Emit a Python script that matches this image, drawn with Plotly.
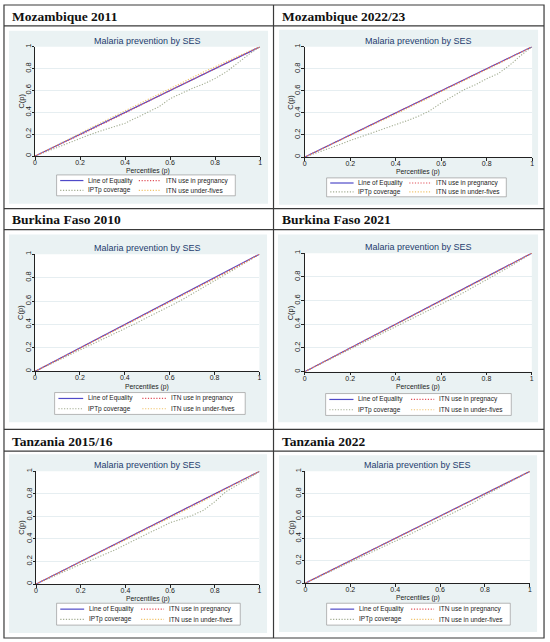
import plotly.graph_objects as go

W, H = 550, 642

# ---- values ----
percentiles = [0, 0.05, 0.1, 0.15, 0.2, 0.25, 0.3, 0.35, 0.4, 0.45, 0.5,
               0.55, 0.6, 0.65, 0.7, 0.75, 0.8, 0.85, 0.9, 0.95, 1]
equality_x = [0, 1]
equality_y = [0, 1]

moz2011_iptp = [0, 0.04, 0.085, 0.125, 0.165, 0.2, 0.235, 0.265, 0.3, 0.35, 0.4,
                0.45, 0.525, 0.575, 0.62, 0.66, 0.71, 0.77, 0.85, 0.93, 1]
moz2011_preg = [0, 0.047, 0.094, 0.142, 0.19, 0.242, 0.293, 0.345, 0.396, 0.447, 0.498,
                0.549, 0.6, 0.65, 0.7, 0.75, 0.8, 0.85, 0.9, 0.95, 1]
moz2011_u5 = [0, 0.05, 0.102, 0.155, 0.207, 0.26, 0.312, 0.364, 0.416, 0.467, 0.518,
              0.569, 0.62, 0.67, 0.72, 0.77, 0.818, 0.866, 0.913, 0.958, 1]

moz2022_iptp = [0, 0.035, 0.075, 0.11, 0.15, 0.185, 0.225, 0.26, 0.295, 0.33, 0.37,
                0.42, 0.49, 0.55, 0.61, 0.655, 0.71, 0.755, 0.83, 0.92, 1]
moz2022_preg = [0, 0.05, 0.1, 0.151, 0.201, 0.251, 0.301, 0.351, 0.401, 0.451, 0.501,
                0.551, 0.601, 0.651, 0.701, 0.751, 0.801, 0.851, 0.9, 0.95, 1]
moz2022_u5 = [0, 0.048, 0.096, 0.145, 0.194, 0.243, 0.292, 0.341, 0.39, 0.44, 0.49,
              0.54, 0.59, 0.64, 0.69, 0.741, 0.792, 0.843, 0.894, 0.947, 1]

bf2010_iptp = [0, 0.045, 0.09, 0.135, 0.18, 0.225, 0.27, 0.315, 0.36, 0.41, 0.46,
               0.505, 0.555, 0.605, 0.66, 0.715, 0.77, 0.825, 0.885, 0.94, 1]
bf2010_preg = [0, 0.049, 0.099, 0.149, 0.199, 0.249, 0.299, 0.349, 0.398, 0.448, 0.497,
               0.547, 0.597, 0.647, 0.697, 0.747, 0.797, 0.847, 0.895, 0.948, 1]
bf2010_u5 = [0, 0.048, 0.097, 0.146, 0.195, 0.244, 0.293, 0.342, 0.391, 0.44, 0.49,
             0.54, 0.589, 0.639, 0.689, 0.739, 0.789, 0.84, 0.89, 0.944, 1]

bf2021_iptp = [0, 0.047, 0.094, 0.141, 0.188, 0.235, 0.282, 0.33, 0.377, 0.424, 0.472,
               0.52, 0.567, 0.617, 0.668, 0.72, 0.772, 0.826, 0.882, 0.94, 1]
bf2021_preg = [0, 0.05, 0.1, 0.15, 0.2, 0.25, 0.3, 0.35, 0.4, 0.45, 0.5,
               0.55, 0.6, 0.65, 0.7, 0.75, 0.8, 0.852, 0.903, 0.952, 1]
bf2021_u5 = [0, 0.049, 0.098, 0.147, 0.196, 0.245, 0.294, 0.344, 0.393, 0.443, 0.493,
             0.543, 0.593, 0.643, 0.693, 0.744, 0.795, 0.846, 0.897, 0.948, 1]

tz2015_iptp = [0, 0.045, 0.09, 0.13, 0.175, 0.215, 0.255, 0.3, 0.35, 0.4, 0.45,
               0.5, 0.545, 0.575, 0.61, 0.655, 0.73, 0.82, 0.875, 0.935, 1]
tz2015_preg = [0, 0.05, 0.1, 0.15, 0.2, 0.25, 0.3, 0.35, 0.4, 0.45, 0.5,
               0.55, 0.6, 0.65, 0.7, 0.75, 0.8, 0.85, 0.9, 0.95, 1]
tz2015_u5 = [0, 0.048, 0.097, 0.146, 0.195, 0.244, 0.293, 0.342, 0.391, 0.44, 0.488,
             0.537, 0.587, 0.637, 0.687, 0.738, 0.789, 0.84, 0.892, 0.945, 1]

tz2022_iptp = [0, 0.046, 0.092, 0.138, 0.185, 0.232, 0.28, 0.327, 0.375, 0.422, 0.47,
               0.52, 0.57, 0.62, 0.67, 0.72, 0.785, 0.84, 0.895, 0.948, 1]
tz2022_preg = [0, 0.05, 0.1, 0.15, 0.2, 0.25, 0.3, 0.35, 0.4, 0.45, 0.5,
               0.55, 0.6, 0.65, 0.7, 0.75, 0.8, 0.85, 0.9, 0.95, 1]
tz2022_u5 = [0, 0.049, 0.098, 0.148, 0.197, 0.247, 0.296, 0.346, 0.396, 0.446, 0.496,
             0.546, 0.596, 0.646, 0.697, 0.747, 0.798, 0.849, 0.9, 0.95, 1]

panel_titles = ["Mozambique 2011", "Mozambique 2022/23", "Burkina Faso 2010",
                "Burkina Faso 2021", "Tanzania 2015/16", "Tanzania 2022"]
iptp_series = [moz2011_iptp, moz2022_iptp, bf2010_iptp, bf2021_iptp, tz2015_iptp, tz2022_iptp]
preg_series = [moz2011_preg, moz2022_preg, bf2010_preg, bf2021_preg, tz2015_preg, tz2022_preg]
u5_series = [moz2011_u5, moz2022_u5, bf2010_u5, bf2021_u5, tz2015_u5, tz2022_u5]
preg_labels = ["ITN use in pregnancy", "ITN use in pregnancy", "ITN use in pregnancy",
               "ITN use in pregnacy", "ITN use in pregnancy", "ITN use in pregnancy"]
u5_labels = ["ITN use under-fives", "ITN use in under-fives", "ITN use in under-fives",
             "ITN use in under-fives", "ITN use in under-fives", "ITN use in under-fives"]
chart_title = "Malaria prevention by SES"
tick_vals = [0, 0.2, 0.4, 0.6, 0.8, 1]
tick_text = ["0", "0.2", "0.4", "0.6", "0.8", "1"]

# ---- layout (pixels) ----
# plot: x0, x1, ytop, ybot ; box: x0, x1, ytop, ybot ; leg: x0, x1, ytop, ybot
geom = [
    dict(plot=(33.3, 260, 44, 154), box=(7, 268, 28, 202), leg=(55, 235, 173, 194), head=(8, 13.5)),
    dict(plot=(305, 534, 44, 155), box=(279, 540, 27, 203), leg=(327, 508, 176, 195), head=(280, 13.5)),
    dict(plot=(33.3, 259.3, 252.7, 370.7), box=(7, 267, 233, 422), leg=(53, 245, 392, 414), head=(8, 218)),
    dict(plot=(305, 533.7, 251.7, 371), box=(278, 540, 233, 422), leg=(326, 513, 393, 415), head=(280, 218)),
    dict(plot=(34.3, 259.3, 471.3, 584.7), box=(7, 267, 454, 634), leg=(55, 240, 604, 626), head=(8, 441)),
    dict(plot=(305.7, 531.7, 471.3, 583.7), box=(279, 539, 455, 633), leg=(327, 512, 604, 626), head=(280, 441)),
]

C_EQ = "#4f4ac8"
C_PREG = "#e0505a"
C_IPTP = "#a3ad92"
C_U5 = "#f0c46c"
BG_BLUE = "#eaf2f3"
TITLE_C = "#1e3c6e"
FONT = "Liberation Sans"
DOT = "1.2px,1.6px"


def px(v):
    return v / W


def py(v):
    return 1 - v / H


fig = go.Figure()
shapes = []
annotations = []

for i, g in enumerate(geom):
    n = "" if i == 0 else str(i + 1)
    xa, ya = "x" + n, "y" + n
    x0, x1, yt, yb = g["plot"]

    fig.add_trace(go.Scatter(x=equality_x, y=equality_y, mode="lines", xaxis=xa, yaxis=ya,
                             line=dict(color=C_EQ, width=1.2), showlegend=False))
    fig.add_trace(go.Scatter(x=percentiles, y=iptp_series[i], mode="lines", xaxis=xa, yaxis=ya,
                             line=dict(color=C_IPTP, width=1.1, dash=DOT), showlegend=False))
    fig.add_trace(go.Scatter(x=percentiles, y=u5_series[i], mode="lines", xaxis=xa, yaxis=ya,
                             line=dict(color=C_U5, width=1.1, dash=DOT), showlegend=False))
    fig.add_trace(go.Scatter(x=percentiles, y=preg_series[i], mode="lines", xaxis=xa, yaxis=ya,
                             line=dict(color=C_PREG, width=1.1, dash=DOT), showlegend=False))

    axis_common = dict(range=[0, 1], tickvals=tick_vals, ticktext=tick_text, showline=True,
                       linecolor="#222", linewidth=1, ticks="outside", ticklen=2.5, tickwidth=0.8,
                       tickcolor="#222", zeroline=False, fixedrange=True)
    fig.update_layout({
        "xaxis" + n: dict(axis_common, domain=[px(x0), px(x1)], anchor=ya, showgrid=False,
                          tickfont=dict(size=7, color="#222", family=FONT), ticklabelstandoff=-3),
        "yaxis" + n: dict(axis_common, domain=[py(yb), py(yt)], anchor=xa, tickangle=-90,
                          tickfont=dict(size=7.5, color="#222", family=FONT), ticklabelstandoff=-2,
                          showgrid=True, gridcolor="#e6eef1", gridwidth=0.8),
    })

    # graph region background and white plot region
    bx0, bx1, byt, byb = g["box"]
    shapes.append(dict(type="rect", xref="paper", yref="paper", x0=px(bx0), x1=px(bx1),
                       y0=py(byb), y1=py(byt), fillcolor=BG_BLUE, line=dict(width=0), layer="below"))
    shapes.append(dict(type="rect", xref="paper", yref="paper", x0=px(x0), x1=px(x1),
                       y0=py(yb), y1=py(yt), fillcolor="white", line=dict(width=0), layer="below"))

    # titles
    annotations.append(dict(text=chart_title, x=px((x0 + x1) / 2), y=py(yt - 6), xref="paper", yref="paper",
                            showarrow=False, xanchor="center", yanchor="middle",
                            font=dict(size=9, color=TITLE_C, family=FONT)))
    annotations.append(dict(text="Percentiles (p)", x=px((x0 + x1) / 2), y=py(yb + 15.5), xref="paper",
                            yref="paper", showarrow=False, xanchor="center", yanchor="middle",
                            font=dict(size=6.8, color="#222", family=FONT)))
    annotations.append(dict(text="C(p)", x=px(x0 - 14), y=py((yt + yb) / 2), xref="paper", yref="paper",
                            showarrow=False, xanchor="center", yanchor="middle", textangle=-90,
                            font=dict(size=7.5, color="#222", family=FONT)))
    hx, hy = g["head"]
    annotations.append(dict(text="<b>" + panel_titles[i] + "</b>", x=px(hx), y=py(hy), xref="paper",
                            yref="paper", showarrow=False, xanchor="left", yanchor="middle",
                            font=dict(size=13.5, color="#111", family="Liberation Serif")))

    # legend box drawn by hand (two columns, two rows)
    lx0, lx1, lyt, lyb = g["leg"]
    lw, lh = lx1 - lx0, lyb - lyt
    shapes.append(dict(type="rect", xref="paper", yref="paper", x0=px(lx0), x1=px(lx1),
                       y0=py(lyb), y1=py(lyt), fillcolor="white", line=dict(color="#9a9a9a", width=0.7),
                       layer="below"))
    rows = [lyt + lh * 0.27, lyt + lh * 0.74]
    entries = [
        ("Line of Equality", C_EQ, "solid", 0, 0),
        (preg_labels[i], C_PREG, DOT, 1, 0),
        ("IPTp coverage", C_IPTP, DOT, 0, 1),
        (u5_labels[i], C_U5, DOT, 1, 1),
    ]
    for label, col, dash, c, r in entries:
        s0 = lx0 + lw * (0.02 if c == 0 else 0.46)
        s1 = lx0 + lw * (0.15 if c == 0 else 0.585)
        t0 = lx0 + lw * (0.165 if c == 0 else 0.6)
        shapes.append(dict(type="line", xref="paper", yref="paper", x0=px(s0), x1=px(s1),
                           y0=py(rows[r]), y1=py(rows[r]), line=dict(color=col, width=1.2, dash=dash)))
        annotations.append(dict(text=label, x=px(t0), y=py(rows[r]), xref="paper", yref="paper",
                                showarrow=False, xanchor="left", yanchor="middle",
                                font=dict(size=6.5, color="#222", family=FONT)))

# table borders
border = dict(color="#3a3a3a", width=1.2)
shapes.append(dict(type="rect", xref="paper", yref="paper", x0=px(2), x1=px(546), y0=py(639), y1=py(2),
                   line=border, layer="above"))
shapes.append(dict(type="line", xref="paper", yref="paper", x0=px(273.5), x1=px(273.5), y0=py(639),
                   y1=py(2), line=border))
for yy in [23, 207, 228, 429, 451]:
    shapes.append(dict(type="line", xref="paper", yref="paper", x0=px(2), x1=px(546), y0=py(yy), y1=py(yy),
                       line=border))

fig.update_layout(width=W, height=H, margin=dict(l=0, r=0, t=0, b=0), paper_bgcolor="white",
                  plot_bgcolor="white", showlegend=False, shapes=shapes, annotations=annotations)

# page body has an 8px default margin; drop it so the figure sits at the window corner
fig.write_html("out.html", config={"displayModeBar": False},
               post_script="document.body.style.margin='0';")
